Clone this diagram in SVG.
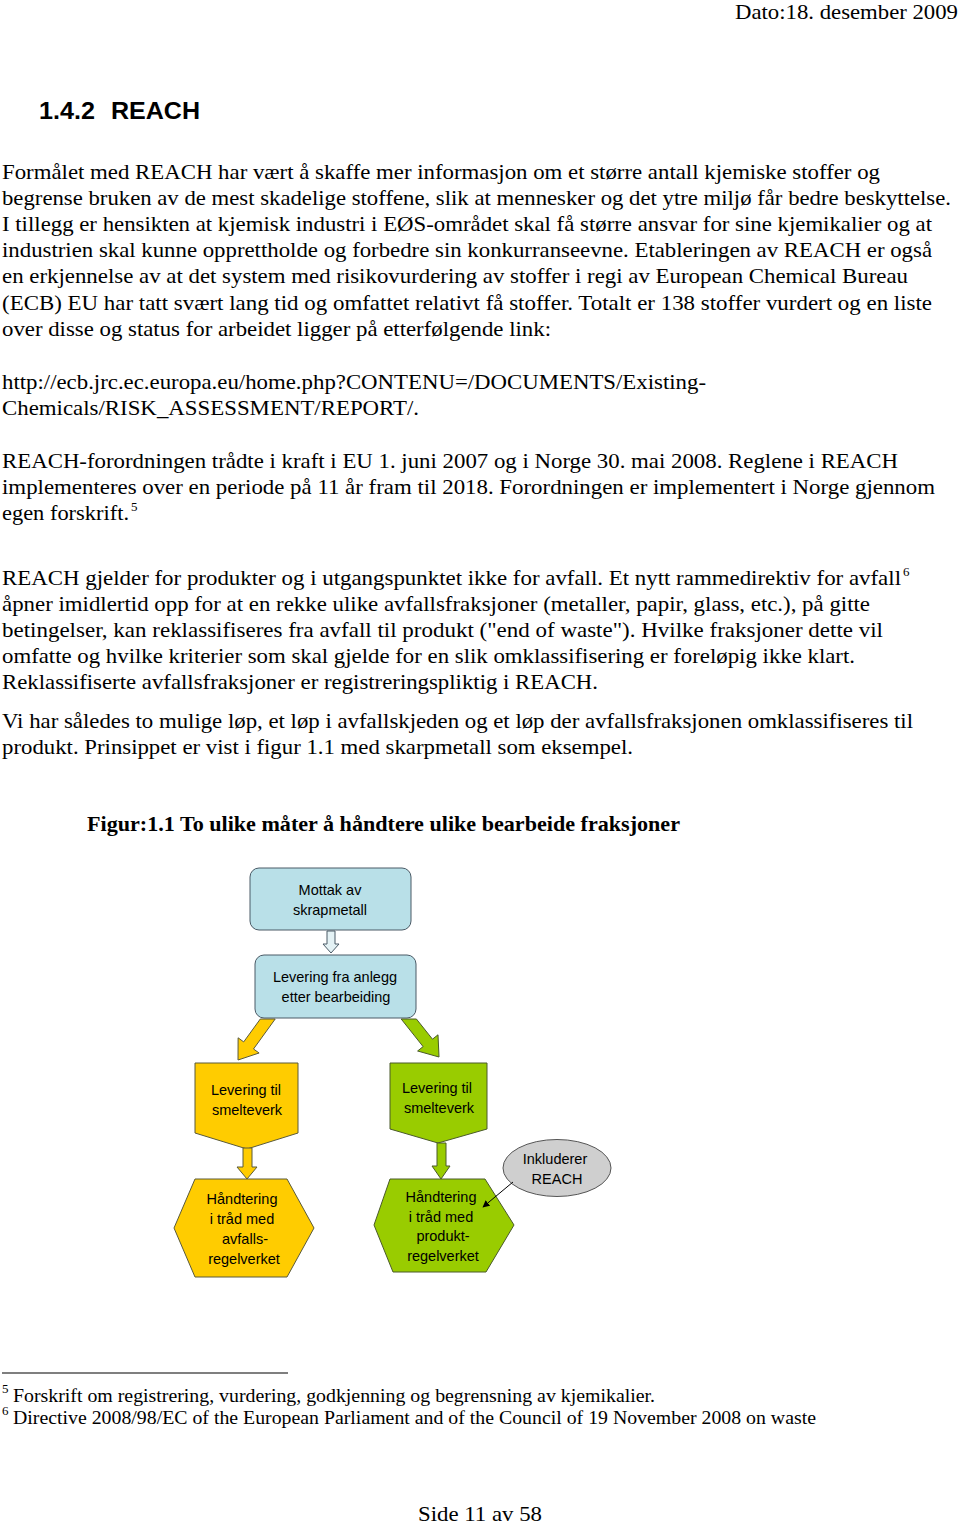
<svg xmlns="http://www.w3.org/2000/svg" width="960" height="1524" viewBox="0 0 960 1524">
<style>
.b{font-family:"Liberation Serif","Times New Roman",serif;font-size:21px;fill:#000}
.fn{font-family:"Liberation Serif","Times New Roman",serif;font-size:18px;fill:#000}
.sup{font-family:"Liberation Serif","Times New Roman",serif;font-size:13px;fill:#000}
.d{font-family:"Liberation Sans",Arial,sans-serif;font-size:14.5px;fill:#000;text-anchor:middle}
.yel{fill:#ffcc00;stroke:#5a5a3a;stroke-width:1}
.grn{fill:#99cc00;stroke:#4a5a2a;stroke-width:1}
.blu{fill:#b9e0e8;stroke:#4a5a66;stroke-width:1}
</style>
<defs>
<marker id="ah" viewBox="0 0 10 10" refX="9" refY="5" markerWidth="7" markerHeight="7" orient="auto" markerUnits="userSpaceOnUse"><path d="M0,0 L10,5 L0,10 z" fill="#000"/></marker>
</defs>
<rect width="960" height="1524" fill="#fff"/>

<text class="b" x="958" y="19" text-anchor="end" textLength="223" lengthAdjust="spacingAndGlyphs">Dato:18. desember 2009</text>
<text x="39" y="119" font-family="Liberation Sans,Arial,sans-serif" font-size="24" font-weight="bold" textLength="56" lengthAdjust="spacingAndGlyphs">1.4.2</text>
<text x="111" y="119" font-family="Liberation Sans,Arial,sans-serif" font-size="24" font-weight="bold" textLength="89" lengthAdjust="spacingAndGlyphs">REACH</text>

<g id="body">
<text class="b" x="2" y="179" textLength="878" lengthAdjust="spacingAndGlyphs">Formålet med REACH har vært å skaffe mer informasjon om et større antall kjemiske stoffer og</text>
<text class="b" x="2" y="205" textLength="949" lengthAdjust="spacingAndGlyphs">begrense bruken av de mest skadelige stoffene, slik at mennesker og det ytre miljø får bedre beskyttelse.</text>
<text class="b" x="2" y="231" textLength="930" lengthAdjust="spacingAndGlyphs">I tillegg er hensikten at kjemisk industri i EØS-området skal få større ansvar for sine kjemikalier og at</text>
<text class="b" x="2" y="257" textLength="930" lengthAdjust="spacingAndGlyphs">industrien skal kunne opprettholde og forbedre sin konkurranseevne. Etableringen av REACH er også</text>
<text class="b" x="2" y="283" textLength="906" lengthAdjust="spacingAndGlyphs">en erkjennelse av at det system med risikovurdering av stoffer i regi av European Chemical Bureau</text>
<text class="b" x="2" y="310" textLength="930" lengthAdjust="spacingAndGlyphs">(ECB) EU har tatt svært lang tid og omfattet relativt få stoffer. Totalt er 138 stoffer vurdert og en liste</text>
<text class="b" x="2" y="336" textLength="549" lengthAdjust="spacingAndGlyphs">over disse og status for arbeidet ligger på etterfølgende link:</text>
<text class="b" x="2" y="389" textLength="704" lengthAdjust="spacingAndGlyphs">http://ecb.jrc.ec.europa.eu/home.php?CONTENU=/DOCUMENTS/Existing-</text>
<text class="b" x="2" y="415" textLength="417" lengthAdjust="spacingAndGlyphs">Chemicals/RISK_ASSESSMENT/REPORT/.</text>
<text class="b" x="2" y="468" textLength="896" lengthAdjust="spacingAndGlyphs">REACH-forordningen trådte i kraft i EU 1. juni 2007 og i Norge 30. mai 2008. Reglene i REACH</text>
<text class="b" x="2" y="494" textLength="933" lengthAdjust="spacingAndGlyphs">implementeres over en periode på 11 år fram til 2018. Forordningen er implementert i Norge gjennom</text>
<text class="b" x="2" y="520" textLength="127" lengthAdjust="spacingAndGlyphs">egen forskrift.</text>
<text class="sup" x="131" y="511">5</text>
<text class="b" x="2" y="585" textLength="899" lengthAdjust="spacingAndGlyphs">REACH gjelder for produkter og i utgangspunktet ikke for avfall.  Et nytt rammedirektiv for avfall</text>
<text class="sup" x="903" y="576">6</text>
<text class="b" x="2" y="611" textLength="868" lengthAdjust="spacingAndGlyphs">åpner imidlertid opp for at en rekke ulike avfallsfraksjoner (metaller, papir, glass, etc.), på gitte</text>
<text class="b" x="2" y="637" textLength="881" lengthAdjust="spacingAndGlyphs">betingelser, kan reklassifiseres fra avfall til produkt ("end of waste").  Hvilke fraksjoner dette vil</text>
<text class="b" x="2" y="663" textLength="853" lengthAdjust="spacingAndGlyphs">omfatte og hvilke kriterier som skal gjelde for en slik omklassifisering er foreløpig ikke klart.</text>
<text class="b" x="2" y="689" textLength="596" lengthAdjust="spacingAndGlyphs">Reklassifiserte avfallsfraksjoner er registreringspliktig i REACH.</text>
<text class="b" x="2" y="728" textLength="911" lengthAdjust="spacingAndGlyphs">Vi har således to mulige løp, et løp i avfallskjeden og et løp der avfallsfraksjonen omklassifiseres til</text>
<text class="b" x="2" y="754" textLength="631" lengthAdjust="spacingAndGlyphs">produkt. Prinsippet er vist i figur 1.1 med skarpmetall som eksempel.</text>
<text class="b" x="87" y="831" font-weight="bold" textLength="593" lengthAdjust="spacingAndGlyphs">Figur:1.1 To ulike måter å håndtere ulike bearbeide fraksjoner</text>
</g>

<g id="n1">
<rect class="blu" x="250" y="868" width="161" height="62" rx="9"/>
<text class="d" x="330" y="895">Mottak av</text>
<text class="d" x="330" y="915">skrapmetall</text>
</g>
<g id="n2">
<rect class="blu" x="255" y="955" width="161" height="63" rx="9"/>
<text class="d" x="335" y="982">Levering fra anlegg</text>
<text class="d" x="336" y="1002">etter bearbeiding</text>
</g>
<g id="n3">
<polygon class="yel" points="195,1063 298,1063 298,1133 247,1149 195,1133"/>
<text class="d" x="246" y="1095">Levering til</text>
<text class="d" x="247" y="1115">smelteverk</text>
</g>
<g id="n4">
<polygon class="grn" points="390,1063 487,1063 487,1129 438,1143 390,1129"/>
<text class="d" x="437" y="1093">Levering til</text>
<text class="d" x="439" y="1113">smelteverk</text>
</g>
<g id="n5">
<polygon class="yel" points="195,1179 287,1179 314,1228 287,1277 195,1277 174,1228"/>
<text class="d" x="242" y="1204">Håndtering</text>
<text class="d" x="242" y="1224">i tråd med</text>
<text class="d" x="245" y="1244">avfalls-</text>
<text class="d" x="244" y="1264">regelverket</text>
</g>
<g id="n6">
<polygon class="grn" points="390,1179 485,1179 514,1225 486,1272 393,1272 374,1225"/>
<text class="d" x="441" y="1202">Håndtering</text>
<text class="d" x="441" y="1222">i tråd med</text>
<text class="d" x="443" y="1241">produkt-</text>
<text class="d" x="443" y="1261">regelverket</text>
</g>
<g id="n7">
<ellipse cx="557" cy="1168" rx="54" ry="28.5" fill="#cfcfcf" stroke="#555" stroke-width="1"/>
<text class="d" x="555" y="1164">Inkluderer</text>
<text class="d" x="557" y="1184">REACH</text>
</g>

<g id="connectors">
<polygon style="fill:#e4f2f5;stroke:#4a5a66;stroke-width:1" points="327,931 335,931 335,944 339,944 331,953 323,944 327,944"/>
<polygon class="yel" points="275.2,1019 253.5,1049 259.1,1053 238,1060 238.1,1037.8 243.7,1041.9 260.3,1019"/>
<polygon class="grn" points="416.4,1019 432.5,1039.2 438,1034.8 439,1057 417.6,1051 423.1,1046.6 401.2,1019"/>
<polygon class="yel" points="243,1148 252,1148 252,1167 257,1167 247,1179 237,1167 243,1167"/>
<polygon class="grn" points="437,1143 446,1143 446,1166 450,1166 441,1179 432,1166 437,1166"/>
<line x1="513" y1="1182" x2="483" y2="1207" stroke="#000" stroke-width="1" marker-end="url(#ah)"/>
</g>

<g id="footer">
<line x1="2" y1="1373" x2="288" y2="1373" stroke="#000" stroke-width="1.2"/>
<text class="sup" x="2" y="1393" font-size="12">5</text>
<text class="fn" x="13" y="1402" textLength="642" lengthAdjust="spacingAndGlyphs">Forskrift om registrering, vurdering, godkjenning og begrensning av kjemikalier.</text>
<text class="sup" x="2" y="1415" font-size="12">6</text>
<text class="fn" x="13" y="1424" textLength="803" lengthAdjust="spacingAndGlyphs">Directive 2008/98/EC of the European Parliament and of the Council of 19 November 2008 on waste</text>
<text class="b" x="418" y="1521" textLength="124" lengthAdjust="spacingAndGlyphs">Side 11 av 58</text>
</g>
</svg>
